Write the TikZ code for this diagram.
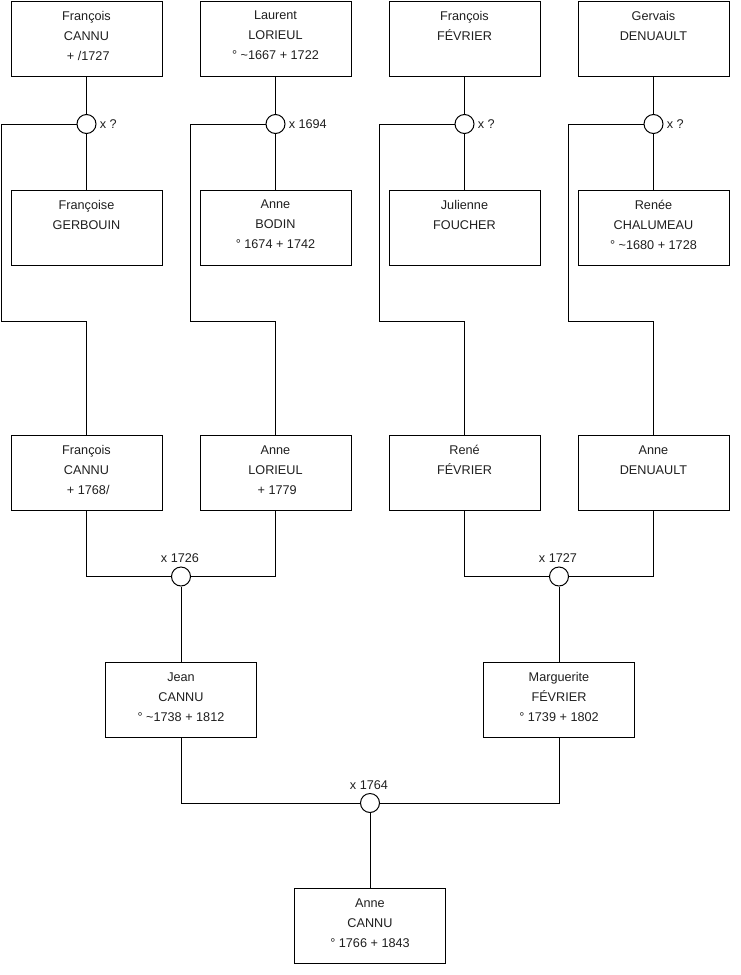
\documentclass[tikz,border=0pt]{standalone}
\usepackage{fontspec}
\setmainfont{Liberation Sans}
\usetikzlibrary{calc}
\tikzset{
  pbox/.style={draw=black, line width=0.75pt, minimum width=113.25pt, minimum height=56.6pt, inner sep=0pt, anchor=north},
  ptxt/.style={align=center, inner sep=0pt, font=\fontsize{9.5}{15}\selectfont, text=black!88},
  wed/.style={draw=black, circle, line width=0.75pt, minimum size=14.25pt, inner sep=0pt, fill=white},
  lbl/.style={inner sep=0pt, font=\fontsize{9.5}{11}\selectfont, text=black!88},
  link/.style={line width=0.75pt, draw=black}
}
\newcommand\person[4]{%
  \node[pbox] (#1) at (#2,#3) {};
  \node[ptxt] (#1t) at (#2,#3+35) {#4};}
\begin{document}
\begin{tikzpicture}[x=0.75pt,y=-0.75pt]
\useasboundingbox (0,0) rectangle (740,975);
% persons
\person{p1}{86.5}{0.5}{François\\CANNU\\\mbox{}\ + /1727}
\person{p2}{275.5}{0.5}{Laurent\\LORIEUL\\° \textasciitilde1667 + 1722}
\person{p3}{464.5}{0.5}{François\\FÉVRIER\\\phantom{0}}
\person{p4}{653.5}{0.5}{Gervais\\DENUAULT\\\phantom{0}}
\person{p5}{86.5}{189.5}{Françoise\\GERBOUIN\\\phantom{0}}
\person{p6}{275.5}{189.5}{Anne\\BODIN\\° 1674 + 1742}
\person{p7}{464.5}{189.5}{Julienne\\FOUCHER\\\phantom{0}}
\person{p8}{653.5}{189.5}{Renée\\CHALUMEAU\\° \textasciitilde1680 + 1728}
\person{p9}{86.5}{435}{François\\CANNU\\\mbox{}\ + 1768/}
\person{p10}{275.5}{435}{Anne\\LORIEUL\\\mbox{}\ + 1779}
\person{p11}{464.5}{435}{René\\FÉVRIER\\\phantom{0}}
\person{p12}{653.5}{435}{Anne\\DENUAULT\\\phantom{0}}
\person{p13}{181}{662}{Jean\\CANNU\\° \textasciitilde1738 + 1812}
\person{p14}{559}{662}{Marguerite\\FÉVRIER\\° 1739 + 1802}
\person{p15}{370}{888}{Anne\\CANNU\\° 1766 + 1843}
% marriages
\node[wed] (m1) at (86.5,124) {};
\node[wed] (m2) at (275.5,124) {};
\node[wed] (m3) at (464.5,124) {};
\node[wed] (m4) at (653.5,124) {};
\node[wed] (m5) at (181,576.5) {};
\node[wed] (m6) at (559,576.5) {};
\node[wed] (m7) at (370,803) {};
% marriage labels
\node[lbl,anchor=west] (l1) at ($(m1.east)+(3,0)$) {x ?};
\node[lbl,anchor=west] (l2) at ($(m2.east)+(3,0)$) {x 1694};
\node[lbl,anchor=west] (l3) at ($(m3.east)+(3,0)$) {x ?};
\node[lbl,anchor=west] (l4) at ($(m4.east)+(3,0)$) {x ?};
\node[lbl] (l5) at (180,558) {x 1726};
\node[lbl] (l6) at (558,558) {x 1727};
\node[lbl] (l7) at (369,785) {x 1764};
% routing points
\coordinate (k1) at (1.7,321.5);
\coordinate (k2) at (190.7,321.5);
\coordinate (k3) at (379.7,321.5);
\coordinate (k4) at (568.7,321.5);
% connectors: top generation
\draw[link] (p1) -- (m1);
\draw[link] (m1) -- (p5);
\draw[link] (m1.west) -| (k1) -| (p9.north);
\draw[link] (p2) -- (m2);
\draw[link] (m2) -- (p6);
\draw[link] (m2.west) -| (k2) -| (p10.north);
\draw[link] (p3) -- (m3);
\draw[link] (m3) -- (p7);
\draw[link] (m3.west) -| (k3) -| (p11.north);
\draw[link] (p4) -- (m4);
\draw[link] (m4) -- (p8);
\draw[link] (m4.west) -| (k4) -| (p12.north);
% middle generation
\draw[link] (p9.south) |- (m5.west);
\draw[link] (p10.south) |- (m5.east);
\draw[link] (m5) -- (p13);
\draw[link] (p11.south) |- (m6.west);
\draw[link] (p12.south) |- (m6.east);
\draw[link] (m6) -- (p14);
% bottom
\draw[link] (p13.south) |- (m7.west);
\draw[link] (p14.south) |- (m7.east);
\draw[link] (m7) -- (p15);
\end{tikzpicture}
\end{document}
